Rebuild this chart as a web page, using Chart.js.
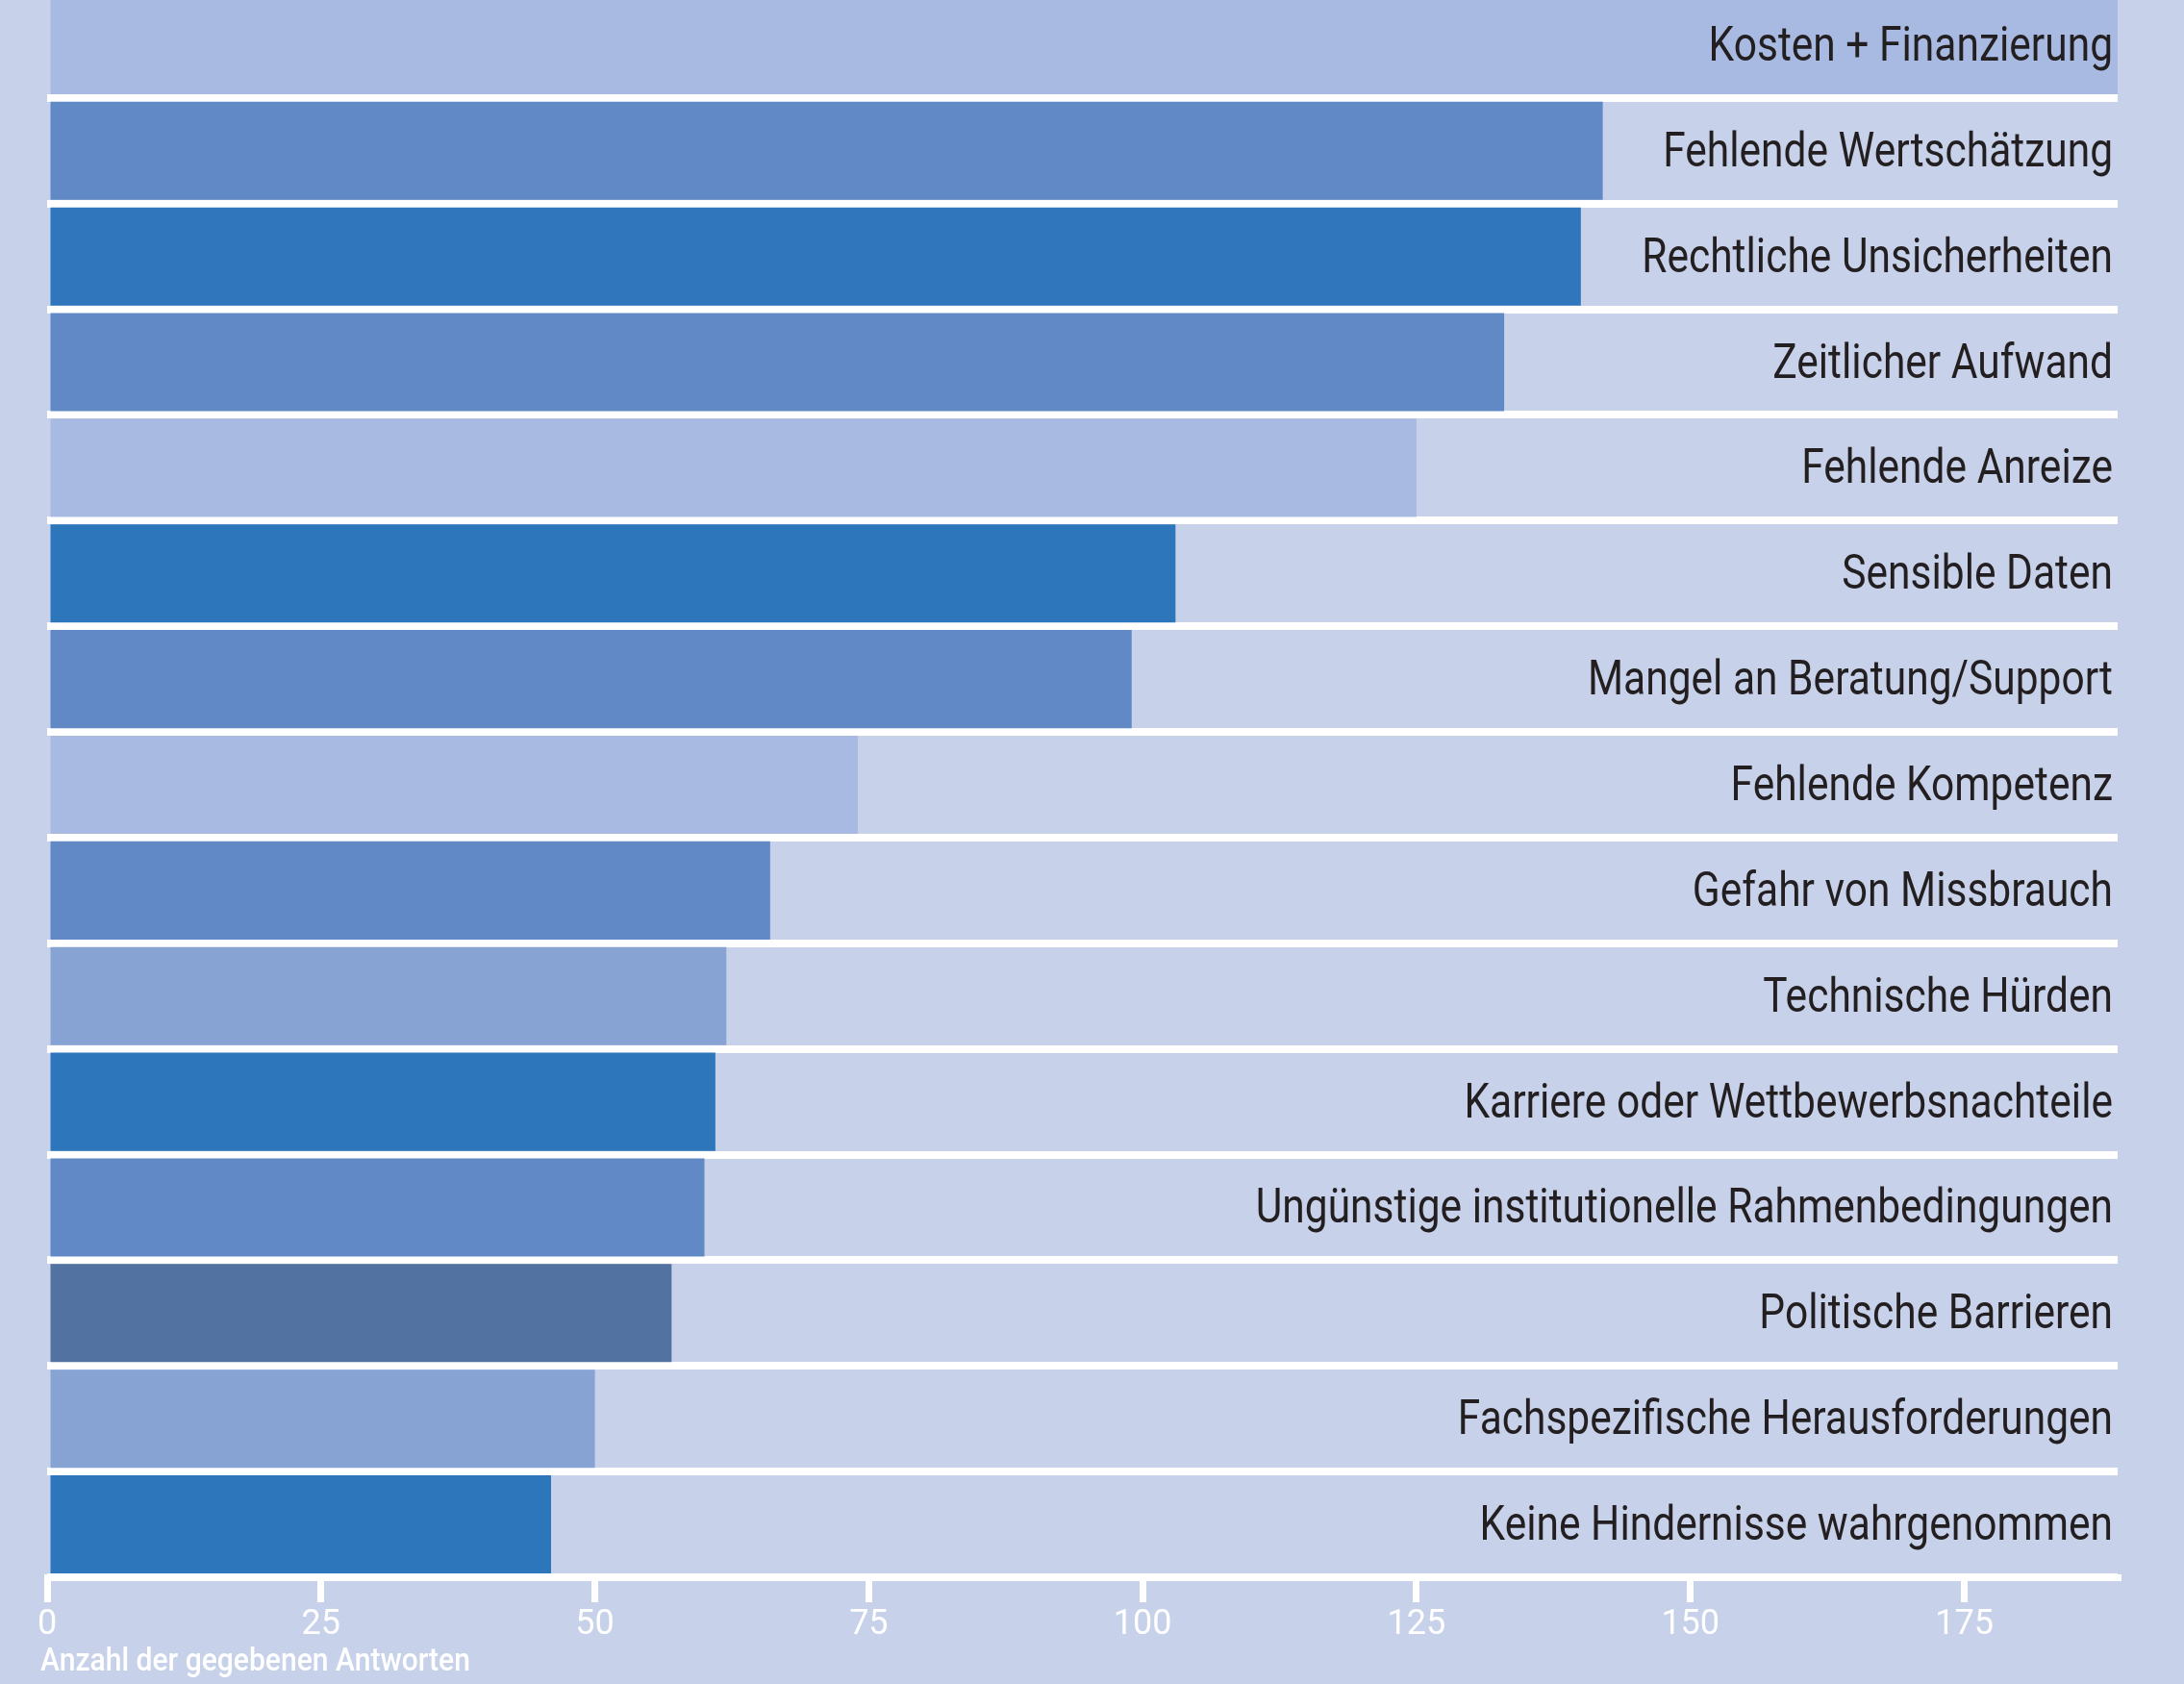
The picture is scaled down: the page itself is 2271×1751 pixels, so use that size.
<!DOCTYPE html>
<html>
<head>
<meta charset="utf-8">
<script src="https://cdn.jsdelivr.net/npm/chart.js@4"></script>
<style>
  html, body { margin: 0; padding: 0; background: #c7d1ea; }
  #wrap { position: relative; width: 2271px; height: 1751px; overflow: hidden; }
  #chart { position: absolute; left: 0; top: -8px; }
</style>
</head>
<body>
<div id="wrap"><canvas id="chart" width="2271" height="1759"></canvas></div>
<script>
const categories = [
    'Kosten + Finanzierung',
    'Fehlende Wertschätzung',
    'Rechtliche Unsicherheiten',
    'Zeitlicher Aufwand',
    'Fehlende Anreize',
    'Sensible Daten',
    'Mangel an Beratung/Support',
    'Fehlende Kompetenz',
    'Gefahr von Missbrauch',
    'Technische Hürden',
    'Karriere oder Wettbewerbsnachteile',
    'Ungünstige institutionelle Rahmenbedingungen',
    'Politische Barrieren',
    'Fachspezifische Herausforderungen',
    'Keine Hindernisse wahrgenommen'
];
const answers = [189, 142, 140, 133, 125, 103, 99, 74, 66, 62, 61, 60, 57, 50, 46];
const barColors = [
    '#a8bae2', '#6189c6', '#2f76bd', '#6189c6', '#a8bae2',
    '#2d76bc', '#6189c6', '#a8bae2', '#6189c6', '#87a3d4',
    '#2d76bc', '#6189c6', '#5272a1', '#87a3d4', '#2d76bc'
];
const axisMax = 189;
const tickStep = 25;
const axisTitle = 'Anzahl der gegebenen Antworten';

// text drawn with a horizontally squeezed Roboto (condensed look)
function squeezedText(ctx, text, x, y, font, color, align, squeeze) {
    ctx.save();
    ctx.font = font;
    ctx.fillStyle = color;
    ctx.textAlign = align;
    ctx.textBaseline = 'alphabetic';
    ctx.translate(x, y);
    ctx.scale(squeeze, 1);
    ctx.fillText(text, 0, 0);
    ctx.restore();
}

const textLayer = {
    id: 'textLayer',
    afterDatasetsDraw(chart) {
        const { ctx, chartArea, scales } = chart;
        categories.forEach((label, i) => {
            const y = scales.y.getPixelForValue(i) + 16;
            squeezedText(ctx, label, chartArea.right - 5, y, '50px Roboto', '#231f20', 'right', 0.85);
        });
        squeezedText(ctx, axisTitle, chartArea.left - 7, chartArea.bottom + 97,
            '500 34px Roboto', '#ffffff', 'left', 0.884);
    }
};

new Chart(document.getElementById('chart'), {
    type: 'bar',
    data: {
        labels: categories,
        datasets: [{
            data: answers,
            backgroundColor: barColors,
            borderWidth: 0,
            categoryPercentage: 0.929,
            barPercentage: 1
        }]
    },
    options: {
        indexAxis: 'y',
        responsive: false,
        animation: false,
        layout: { padding: { left: 49, right: 69, top: 0, bottom: 37 } },
        plugins: { legend: { display: false }, tooltip: { enabled: false } },
        scales: {
            x: {
                min: 0,
                max: axisMax,
                grid: {
                    drawOnChartArea: false,
                    drawTicks: true,
                    tickLength: 26,
                    lineWidth: 7,
                    color: '#ffffff'
                },
                border: { display: true, color: '#ffffff', width: 7 },
                ticks: {
                    stepSize: tickStep,
                    includeBounds: false,
                    color: '#ffffff',
                    padding: 6,
                    font: { family: 'Roboto', size: 36, lineHeight: 1 }
                }
            },
            y: {
                grid: {
                    offset: true,
                    drawTicks: false,
                    lineWidth: 8,
                    color: '#ffffff'
                },
                border: { display: false },
                ticks: { display: false }
            }
        }
    },
    plugins: [textLayer]
});
</script>
</body>
</html>
